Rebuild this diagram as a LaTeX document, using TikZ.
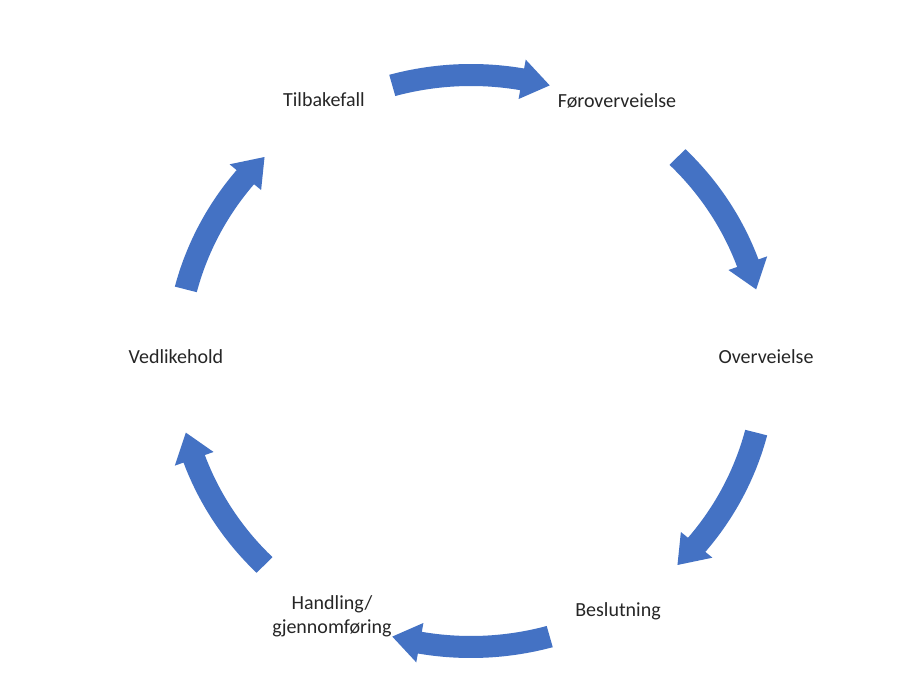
\documentclass[tikz,border=0pt]{standalone}
\usepackage{fontspec}
\setmainfont{Carlito}
\definecolor{arrowblue}{HTML}{4472C4}
\definecolor{labelgray}{HTML}{262626}
\tikzset{
  lbl/.style={font=\fontsize{20}{24}\selectfont, text=labelgray, inner sep=0pt, align=center},
}
% curved block arrow: #1 tail angle, #2 head-base angle, #3 tip angle
\newcommand{\cyclearrow}[3]{%
  \fill[arrowblue] (#1:297pt) arc[start angle=#1, end angle=#2, radius=297pt]
    -- (#2:306pt) -- (#3:286pt) -- (#2:266pt) -- (#2:275pt)
    arc[start angle=#2, end angle=#1, radius=275pt] -- cycle;}
\begin{document}
\begin{tikzpicture}[x=1pt,y=1pt]
\useasboundingbox (0,0) rectangle (900,-684);
\fill[white] (0,0) rectangle (900,-684);
\begin{scope}[shift={(471pt,-361pt)}, xscale=1.03]
  \cyclearrow{105.5}{80}{74.5}
  \cyclearrow{45.5}{20}{14.5}
  \cyclearrow{-14.5}{-40}{-45.5}
  \cyclearrow{-74.5}{-100}{-105.5}
  \cyclearrow{-134.5}{-160}{-165.5}
  \cyclearrow{165.5}{140}{134.5}
\end{scope}
\node[lbl] (tilbakefall) at (324,-100) {Tilbakefall};
\node[lbl] (foroverveielse) at (617,-101) {Føroverveielse};
\node[lbl] (overveielse) at (766,-357) {Overveielse};
\node[lbl] (beslutning) at (618,-611) {Beslutning};
\node[lbl] (handling) at (332,-616) {Handling/\\gjennomføring};
\node[lbl] (vedlikehold) at (176,-357) {Vedlikehold};
\end{tikzpicture}
\end{document}
